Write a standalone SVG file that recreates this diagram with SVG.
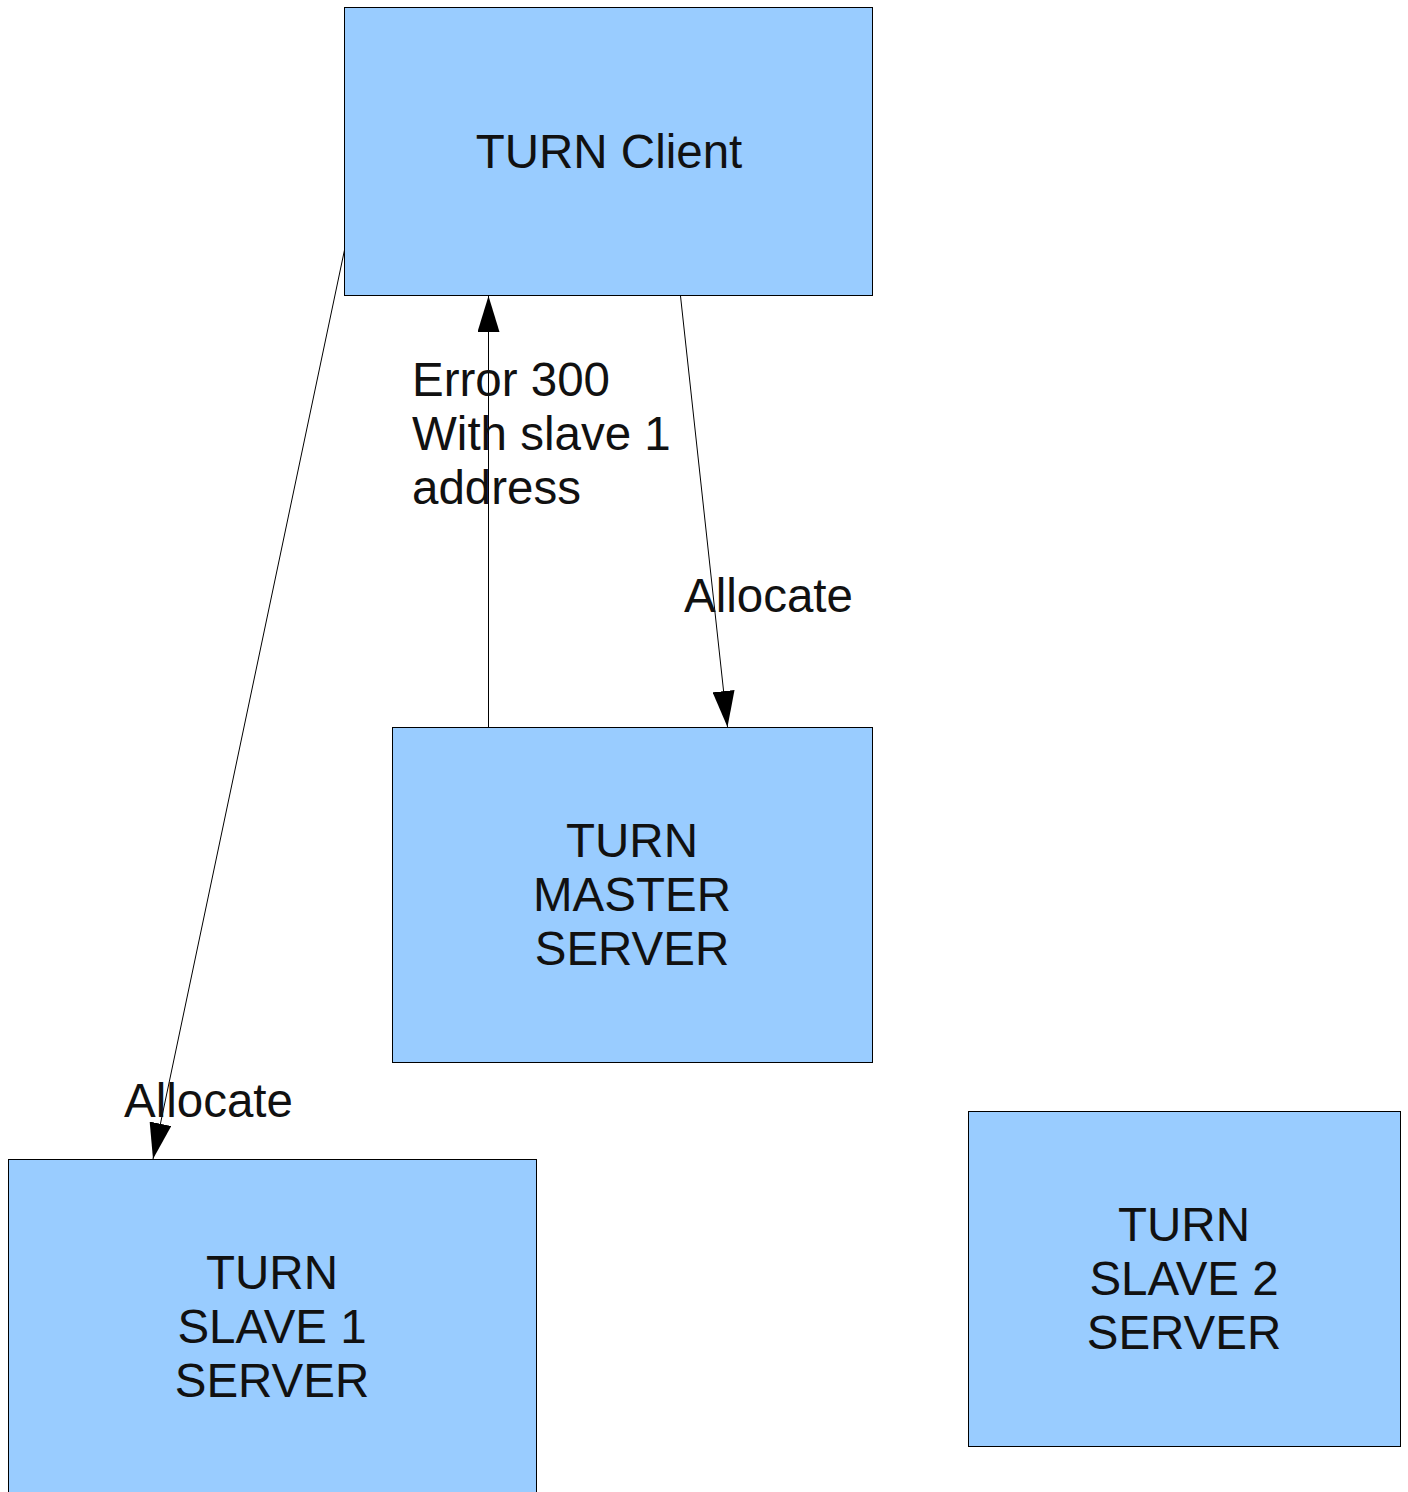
<svg xmlns="http://www.w3.org/2000/svg" width="1408" height="1492" viewBox="0 0 1408 1492">
  <style>
    .box { fill: #99ccff; stroke: #000; stroke-width: 1; }
    .lbl { font-family: "Liberation Sans", Arial, sans-serif; font-size: 47.5px; fill: #111; }
    .mid { text-anchor: middle; }
    .edge { stroke: #000; stroke-width: 1; fill: none; }
  </style>
  <defs>
    <marker id="head" viewBox="0 0 36 22" refX="36" refY="11" markerWidth="36" markerHeight="22" markerUnits="userSpaceOnUse" orient="auto">
      <path d="M0,0 L36,11 L0,22 Z" fill="#000"/>
    </marker>
  </defs>

  <g id="client">
    <rect class="box" x="344.5" y="7.5" width="528" height="288"/>
    <text class="lbl mid" x="609" y="168">TURN Client</text>
  </g>

  <g id="master">
    <rect class="box" x="392.5" y="727.5" width="480" height="335"/>
    <text class="lbl mid" x="632" y="857">TURN</text>
    <text class="lbl mid" x="632" y="911">MASTER</text>
    <text class="lbl mid" x="632" y="965">SERVER</text>
  </g>

  <g id="slave1">
    <rect class="box" x="8.5" y="1159.5" width="528" height="340"/>
    <text class="lbl mid" x="272" y="1289">TURN</text>
    <text class="lbl mid" x="272" y="1343">SLAVE 1</text>
    <text class="lbl mid" x="272" y="1397">SERVER</text>
  </g>

  <g id="slave2">
    <rect class="box" x="968.5" y="1111.5" width="432" height="335"/>
    <text class="lbl mid" x="1184" y="1241">TURN</text>
    <text class="lbl mid" x="1184" y="1295">SLAVE 2</text>
    <text class="lbl mid" x="1184" y="1349">SERVER</text>
  </g>

  <g id="connectors">
    <line class="edge" x1="488.5" y1="727" x2="488.5" y2="296" marker-end="url(#head)"/>
    <line class="edge" x1="680.5" y1="296" x2="727.5" y2="727" marker-end="url(#head)"/>
    <line class="edge" x1="344.5" y1="250" x2="153" y2="1159" marker-end="url(#head)"/>
    <text class="lbl" x="412" y="396">Error 300</text>
    <text class="lbl" x="412" y="450">With slave 1</text>
    <text class="lbl" x="412" y="504">address</text>
    <text class="lbl" x="684" y="612">Allocate</text>
    <text class="lbl" x="124" y="1117">Allocate</text>
  </g>
</svg>
